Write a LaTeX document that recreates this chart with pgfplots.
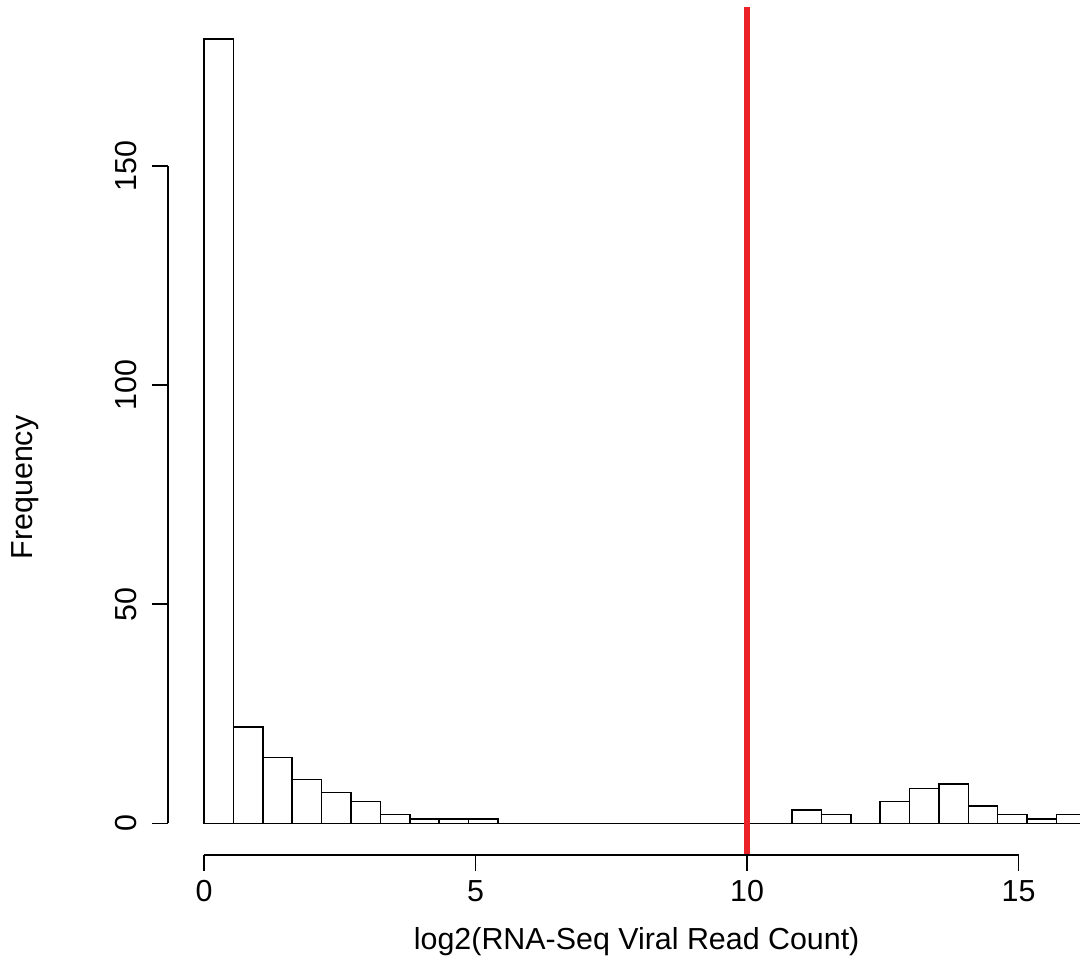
\documentclass[border=0pt]{standalone}
\usepackage{pgfplots}
\pgfplotsset{compat=1.18}
\usepackage{fontspec}
\setmainfont{Liberation Sans}
\definecolor{rline}{RGB}{235,35,40}
\begin{document}
\fontsize{15.2}{18}\selectfont
\begin{tikzpicture}
\useasboundingbox (-84pt,-53pt) rectangle (456pt,427.5pt);
\begin{axis}[
  at={(0,0)}, anchor=south west,
  scale only axis, width=456pt, height=424pt,
  xmin=-0.663, xmax=16.13, ymin=-7.23, ymax=186.3,
  axis line style={draw=none},
  xtick=\empty, ytick=\empty,
  clip=false,
]
\addplot[ybar interval, fill=white, draw=black, line width=0.75pt] coordinates {
(0,179) (0.5413,22) (1.0826,15) (1.6239,10) (2.1652,7) (2.7065,5) (3.2478,2) (3.7891,1) (4.3304,1) (4.8717,1)
(5.413,0) (5.9543,0) (6.4956,0) (7.0369,0) (7.5782,0) (8.1195,0) (8.6608,0) (9.2021,0) (9.7434,0) (10.2847,0)
(10.826,3) (11.3673,2) (11.9086,0) (12.4499,5) (12.9912,8) (13.5325,9) (14.0738,4) (14.6151,2) (15.1564,1) (15.6977,2)
(16.239,2)
};
\addplot[rline, line width=3pt] coordinates {(10,-7.23) (10,186.3)};
% axes (R style)
\draw[line width=0.75pt] (axis cs:0,-7.23) -- (axis cs:15,-7.23);
\draw[line width=0.75pt] (axis cs:-0.663,0) -- (axis cs:-0.663,150);
\pgfplotsinvokeforeach{0,5,10,15}{
  \draw[line width=0.75pt] (axis cs:#1,-7.23) -- ([yshift=-8pt]axis cs:#1,-7.23);
  \node[anchor=north, inner sep=0pt] at ([yshift=-12.5pt]axis cs:#1,-7.23) {#1};
}
\pgfplotsinvokeforeach{0,50,100,150}{
  \draw[line width=0.75pt] (axis cs:-0.663,#1) -- ([xshift=-8pt]axis cs:-0.663,#1);
  \node[rotate=90, anchor=south, inner sep=0pt] at ([xshift=-15.5pt]axis cs:-0.663,#1) {#1};
}
\end{axis}
\node[anchor=base, inner sep=0pt] at (234.35pt,-47.5pt) {log2(RNA-Seq Viral Read Count)};
\node[rotate=90, anchor=base, inner sep=0pt] at (-67.5pt,183.75pt) {Frequency};
\end{tikzpicture}
\end{document}
